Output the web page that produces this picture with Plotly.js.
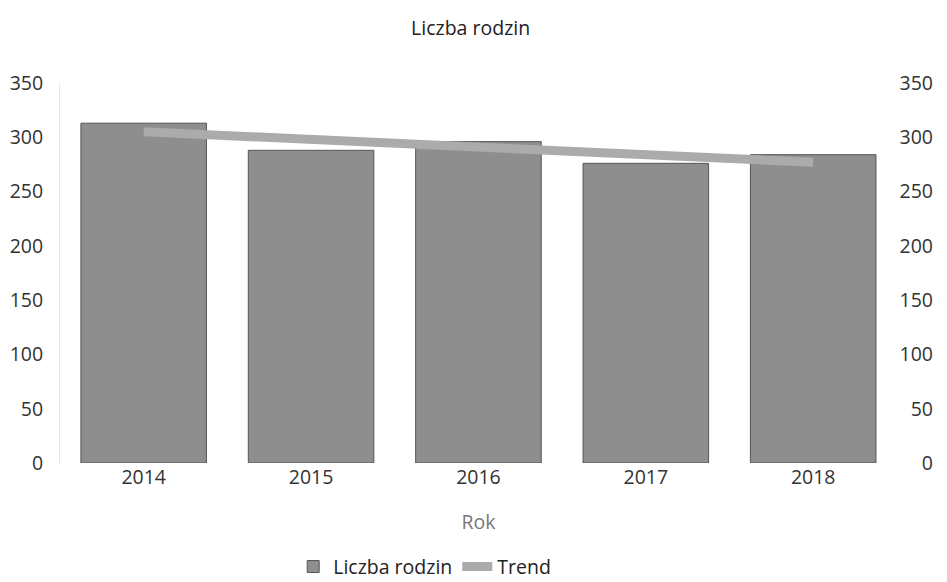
<!DOCTYPE html>
<html><head><meta charset="utf-8">
<script src="https://cdn.plot.ly/plotly-3.0.1.min.js"></script>
<style>html,body{margin:0;padding:0;background:#fff}#chart{width:947px;height:582px}</style>
</head><body><div id="chart"></div>
<script>
const years = ['2014','2015','2016','2017','2018'];
const families = [313, 288, 296, 276, 284];
const trend = [305, 298, 291, 284, 277];

const data = [
  {type:'bar', x:years, y:families, name:'Liczba rodzin',
   marker:{color:'#8e8e8e', line:{color:'#555', width:1}}},
  {type:'scatter', mode:'lines', x:years, y:trend, name:'Trend', yaxis:'y2',
   line:{color:'#ababab', width:9}}
];
const layout = {
  width:947, height:582,
  margin:{l:60, r:7, t:83, b:119},
  paper_bgcolor:'#fff', plot_bgcolor:'#fff',
  font:{family:'Open Sans, Noto Sans, sans-serif', color:'#333', size:20},
  title:{text:'Liczba rodzin', x:0.497, xanchor:'center', y:0.952, yanchor:'middle', font:{size:19.5, color:'#222'}},
  bargap:0.25,
  xaxis:{type:'category', domain:[0,0.951], showgrid:false, zeroline:false, showline:false, ticks:'',
         tickfont:{size:19.5, color:'#333'},
         title:{text:'Rok', font:{size:19.5, color:'#777'}, standoff:26}},
  yaxis:{range:[0,350], dtick:50, showgrid:false, zeroline:false, showline:true,
         linecolor:'#e6e6e6', linewidth:1, ticks:'', ticklabelstandoff:12,
         tickfont:{size:19.5, color:'#333'}},
  yaxis2:{range:[0,350], dtick:50, overlaying:'y', anchor:'free', position:1, side:'right',
          ticklabelposition:'inside', ticklabeloverflow:'allow', showgrid:false,
          zeroline:false, showline:false, ticks:'', ticklabelstandoff:4,
          tickfont:{size:19.5, color:'#333'}},
  showlegend:true,
  legend:{orientation:'h', x:0.265, xanchor:'left', yref:'container', y:0.026, yanchor:'middle',
          font:{size:19.5, color:'#222'}, itemwidth:30}
};
Plotly.newPlot('chart', data, layout, {displayModeBar:false, staticPlot:true});
</script></body></html>
